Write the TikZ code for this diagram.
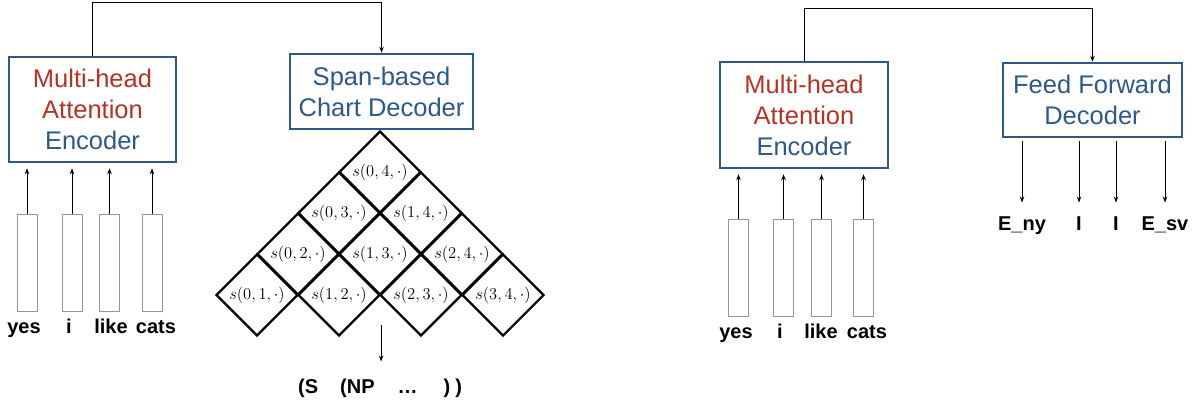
\RequirePackage{fix-cm}
\documentclass[tikz,border=0pt]{standalone}
\usepackage{fontspec}
\setmainfont{Liberation Sans}
\usetikzlibrary{shapes.geometric,arrows.meta}
\definecolor{boxblue}{RGB}{44,88,140}
\definecolor{headred}{RGB}{180,50,38}
\definecolor{bargray}{RGB}{150,150,150}
\begin{document}
\begin{tikzpicture}[x=1pt,y=-1pt,
		box/.style={draw=boxblue,line width=2.5pt,text=boxblue,align=center,inner sep=0pt,font=\fontsize{25.5}{31}\selectfont},
		bar/.style={draw=bargray,line width=1pt,fill=white,minimum width=20pt,minimum height=97pt,inner sep=0pt},
		word/.style={font=\bfseries\fontsize{20}{24}\selectfont,inner sep=0pt,text height=14.5pt,text depth=4pt},
		cell/.style={diamond,draw,line width=2.2pt,aspect=1,minimum width=82pt,minimum height=82pt,inner sep=0pt,font=\fontsize{16.5}{18}\selectfont},
		arr/.style={line width=1pt,-{Stealth[length=6pt,width=4.5pt]}}]
		\useasboundingbox (0,0) rectangle (1193,404);
		\node[box,minimum width=167pt,minimum height=105pt] at (92.5,109.5) (enc1) {\textcolor{headred}{Multi-head}\\\textcolor{headred}{Attention}\\Encoder};
		\node[box,minimum width=183pt,minimum height=75pt] at (381.5,91.5) (span) {Span-based\\Chart Decoder};
		\draw[arr] (enc1.north) -- ++(0,-53) -| (span.north);
		\node[bar] at (27,262.5) (b1) {};
		\node[bar] at (72,262.5) (b2) {};
		\node[bar] at (109.5,262.5) (b3) {};
		\node[bar] at (152,262.5) (b4) {};
		\foreach \n in {1,...,4}
			\draw[arr,shorten >=5pt] (b\n.north) -- (b\n.north |- enc1.south);
		\node[word] at (24,328) (w1) {yes};
		\node[word] at (69,328) (w2) {i};
		\node[word] at (111,328) (w3) {like};
		\node[word] at (156,328) (w4) {cats};
		\foreach \len in {1,...,4}{
			\pgfmathtruncatemacro\last{4-\len}
			\foreach \st in {0,...,\last}{
				\pgfmathtruncatemacro\en{\st+\len}
				\node[cell] at ({257+(\st+(\len-1)/2)*82},{295-41*(\len-1)}) (c\st\en) {$s(\st,\en,\cdot)$};
			}
		}
		\node[word,anchor=west] at (298,388) (tree) {(S\hspace{22pt}(NP\hspace{23pt}\ldots\hspace{26pt})\hspace{5pt})};
		\draw[arr,shorten >=17pt] (c12.east) ++(0,30) -- (c12.east |- tree.north);
		\node[box,minimum width=168pt,minimum height=106pt] at (804,115) (enc2) {\textcolor{headred}{Multi-head}\\\textcolor{headred}{Attention}\\Encoder};
		\node[box,minimum width=179pt,minimum height=74pt] at (1092.5,100) (ff) {Feed Forward\\Decoder};
		\draw[arr] (enc2.north) -- ++(0,-52) -| (ff.north);
		\node[bar] at (738.5,267.5) (r1) {};
		\node[bar] at (783.5,267.5) (r2) {};
		\node[bar] at (821.5,267.5) (r3) {};
		\node[bar] at (863.5,267.5) (r4) {};
		\foreach \n in {1,...,4}
			\draw[arr,shorten >=5pt] (r\n.north) -- (r\n.north |- enc2.south);
		\node[word] at (736,333) (v1) {yes};
		\node[word] at (780,333) (v2) {i};
		\node[word] at (821,333) (v3) {like};
		\node[word] at (867,333) (v4) {cats};
		\node[word] at (1022,225) (o1) {E\_ny};
		\node[word] at (1079,225) (o2) {I};
		\node[word] at (1116,225) (o3) {I};
		\node[word] at (1165,225) (o4) {E\_sv};
		\foreach \n in {1,...,4}
			\draw[arr,shorten <=3pt,shorten >=13pt] (o\n.north |- ff.south) -- (o\n.north);
	\end{tikzpicture}
\end{document}
